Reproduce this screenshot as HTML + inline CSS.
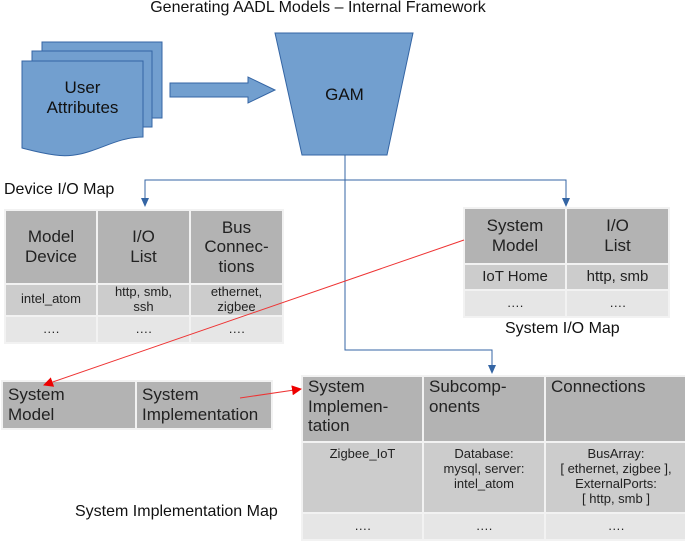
<!DOCTYPE html>
<html><head><style>
body{margin:0;width:685px;height:541px;background:#fff;font-family:"Liberation Sans",sans-serif;position:relative;overflow:hidden}
.t{position:absolute;color:#111}
table{position:absolute;border-collapse:collapse;table-layout:fixed}
td{border:2px solid #f2f2f2;text-align:center;padding:0;color:#222;line-height:1.15}
.h{background:#b3b3b3;font-size:17px}
.r{background:#cccccc;font-size:13px}
.d{background:#e6e6e6;font-size:13px}
.l td{text-align:left;padding-left:5px;vertical-align:top}
svg{z-index:5}
</style></head><body>
<svg width="685" height="541" style="position:absolute;left:0;top:0">
<defs>
<marker id="r" markerWidth="10" markerHeight="10" refX="9" refY="5" orient="auto" markerUnits="userSpaceOnUse"><path d="M0,0 L10,5 L0,10z" fill="#e00"/></marker>
</defs>
<g fill="#729fcf" stroke="#3465a4" stroke-width="1">
<rect x="42" y="42" width="120" height="76"/>
<rect x="32" y="51" width="120" height="76"/>
<path d="M22,61 H143 V137 C110,137 90,160 55,155 C40,153 30,150 22,148 Z"/>
<path d="M170,83 H248 V77 L275,90 L248,103 V97 H170 Z"/>
<path d="M275,33 H413 L387,155 H302 Z"/>
</g>
<g fill="none" stroke="#3465a4" stroke-width="1">
<path d="M345,155 V350 H492 V372"/>
<path d="M145,204 V180 H566 V204"/>
</g>
<path d="M141,198 h8 l-4,9z M562,198 h8 l-4,9z M488,365 h8 l-4,9z" fill="#3465a4"/>
<line x1="464" y1="240" x2="44" y2="385" stroke="#e33" stroke-width="1" marker-end="url(#r)"/>
<line x1="240" y1="398" x2="301" y2="389" stroke="#e33" stroke-width="1" marker-end="url(#r)"/>
</svg>
<div class="t" style="left:0;width:636px;top:-1px;text-align:center;font-size:16px">Generating AADL Models – Internal Framework</div>
<div class="t" style="left:22px;width:121px;top:78px;text-align:center;font-size:17px;line-height:20px;z-index:6">User<br>Attributes</div>
<div class="t" style="left:302px;width:85px;top:85px;text-align:center;font-size:17px;z-index:6">GAM</div>
<div class="t" style="left:4px;top:181px;font-size:16px">Device I/O Map</div>
<div class="t" style="left:505px;top:320px;font-size:16px">System I/O Map</div>
<div class="t" style="left:75px;top:503px;font-size:16px">System Implementation Map</div>
<table style="left:4px;top:209px;width:278px">
<col style="width:92px"><col style="width:93px"><col style="width:93px">
<tr class="h" style="height:74px"><td>Model<br>Device</td><td>I/O<br>List</td><td>Bus<br>Connec-<br>tions</td></tr>
<tr class="r" style="height:30px"><td>intel_atom</td><td>http, smb,<br>ssh</td><td>ethernet,<br>zigbee</td></tr>
<tr class="d" style="height:27px"><td>….</td><td>….</td><td>….</td></tr>
</table>
<table style="left:463px;top:207px;width:205px">
<col style="width:102px"><col style="width:103px">
<tr class="h" style="height:56px"><td>System<br>Model</td><td>I/O<br>List</td></tr>
<tr class="r" style="height:26px"><td style="font-size:15px">IoT Home</td><td style="font-size:15px">http, smb</td></tr>
<tr class="d" style="height:27px"><td>….</td><td>….</td></tr>
</table>
<table class="l" style="left:1px;top:380px;width:270px">
<col style="width:134px"><col style="width:136px">
<tr class="h" style="height:48px"><td style="vertical-align:middle">System<br>Model</td><td style="vertical-align:middle">System<br>Implementation</td></tr>
</table>
<table style="left:301px;top:375px;width:385px">
<col style="width:121px"><col style="width:122px"><col style="width:142px">
<tr class="h l" style="height:66px"><td style="text-align:left;padding-left:5px;vertical-align:top">System<br>Implemen-<br>tation</td><td style="text-align:left;padding-left:5px;vertical-align:top">Subcomp-<br>onents</td><td style="text-align:left;padding-left:5px;vertical-align:top">Connections</td></tr>
<tr class="r" style="height:71px"><td style="vertical-align:top;padding-top:4px">Zigbee_IoT</td><td style="vertical-align:top;padding-top:4px">Database:<br>mysql, server:<br>intel_atom</td><td style="vertical-align:top;padding-top:4px">BusArray:<br>[ ethernet, zigbee ],<br>ExternalPorts:<br>[ http, smb ]</td></tr>
<tr class="d" style="height:27px"><td>….</td><td>….</td><td>….</td></tr>
</table>
</body></html>
